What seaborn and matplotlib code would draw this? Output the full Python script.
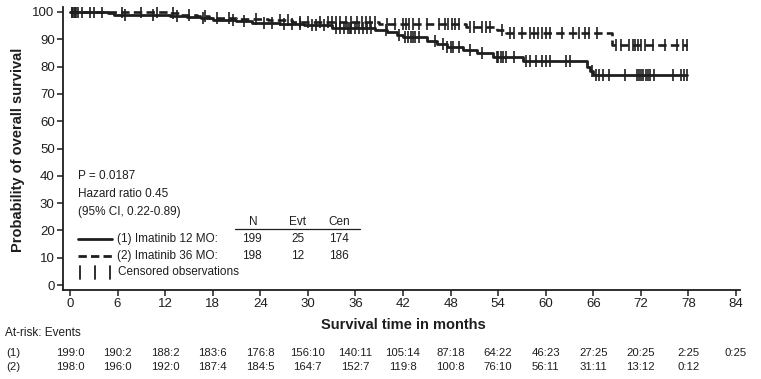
import numpy as np
import pandas as pd
import matplotlib
matplotlib.use("Agg")
import matplotlib.pyplot as plt
from matplotlib.lines import Line2D
import seaborn as sns

# ---------------- data ----------------
months_ticks = [0, 6, 12, 18, 24, 30, 36, 42, 48, 54, 60, 66, 72, 78, 84]
surv_ticks = [0, 10, 20, 30, 40, 50, 60, 70, 80, 90, 100]

# group 1: Imatinib 12 MO (solid) – step times and survival after each step
times1 = [0, 4.8, 5.6, 12.6, 14.7, 16.5, 18.0, 21.0, 23.0, 26.5, 29.5, 33.0, 38.5,
          40.0, 41.2, 42.0, 45.0, 46.3, 47.5, 49.6, 51.3, 53.4, 57.1, 65.2, 65.6, 66.0]
surv1 = [100, 99.5, 99.0, 98.5, 98.0, 97.6, 97.1, 96.6, 96.1, 95.6, 95.1, 94.2, 93.4,
         92.6, 91.7, 90.8, 89.2, 88.1, 87.1, 86.0, 84.9, 83.5, 81.9, 80.0, 78.5, 77.0]
cens1 = [0.3, 0.6, 1.0, 2.5, 4.0, 7.0, 10.5, 13.5, 16.8, 20.5, 22.0, 24.5, 25.5, 27.0,
         28.0, 29.0, 30.5, 31.0, 32.0, 33.5, 34.0, 34.5, 35.0, 35.3, 35.5, 36.0, 36.5,
         37.0, 37.5, 38.0, 39.8, 41.5, 42.3, 42.6, 43.0, 43.3, 43.5, 44.0, 46.0, 47.0,
         47.5, 48.0, 48.3, 49.0, 50.5, 52.0, 53.8, 54.0, 54.3, 54.6, 55.0, 56.0, 57.5,
         58.0, 58.8, 59.5, 60.0, 60.5, 62.5, 63.0, 65.8, 66.3, 66.7, 67.2, 68.0, 70.0,
         71.5, 71.8, 72.0, 72.3, 72.6, 72.9, 73.2, 73.6, 76.0, 77.0, 77.4, 77.8]

# group 2: Imatinib 36 MO (dashed)
times2 = [0, 12.5, 14.0, 16.0, 17.5, 21.0, 25.0, 28.0, 39.0, 50.0, 53.8, 55.0, 68.3]
surv2 = [100, 99.5, 99.0, 98.4, 97.9, 97.4, 96.9, 96.3, 95.7, 94.6, 93.5, 92.2, 88.0]
cens2 = [0.2, 0.5, 0.8, 1.5, 3.0, 6.5, 9.0, 11.0, 13.0, 15.0, 17.0, 18.5, 20.0, 23.5,
         26.5, 27.5, 29.0, 30.0, 31.5, 32.5, 33.0, 33.5, 34.0, 34.8, 35.5, 36.2, 36.8,
         37.3, 37.8, 38.5, 40.0, 41.0, 42.0, 42.4, 42.8, 43.2, 44.0, 45.0, 46.5, 47.3,
         47.7, 48.2, 48.6, 49.0, 50.5, 51.0, 52.0, 52.5, 53.0, 54.5, 55.5, 56.0, 57.0,
         58.0, 58.5, 59.0, 59.5, 60.0, 60.5, 62.0, 63.5, 64.2, 65.0, 65.5, 66.5, 68.8,
         69.5, 70.5, 71.0, 71.3, 71.6, 72.0, 72.5, 73.5, 75.0, 76.5, 77.3, 77.8]

risk1 = ["199:0", "190:2", "188:2", "183:6", "176:8", "156:10", "140:11", "105:14",
         "87:18", "64:22", "46:23", "27:25", "20:25", "2:25", "0:25"]
risk2 = ["198:0", "196:0", "192:0", "187:4", "184:5", "164:7", "152:7", "119:8",
         "100:8", "76:10", "56:11", "31:11", "13:12", "0:12"]

group_labels = ["(1) Imatinib 12 MO:", "(2) Imatinib 36 MO:"]
group_N = [199, 198]
group_evt = [25, 12]
group_cen = [174, 186]

# ---------------- style ----------------
sns.set_style("ticks")
plt.rcParams["font.family"] = ["Liberation Sans", "DejaVu Sans"]
INK = "#1e1e1e"

W, H = 761, 379
fig = plt.figure(figsize=(W / 100, H / 100), dpi=100)


def fx(px):
    return px / W


def fy(py):
    return 1 - py / H


ax = fig.add_axes([fx(63), fy(290), fx(740) - fx(63), fy(7) - fy(290)])


def step_df(t, s, cens):
    t = list(t) + [max(cens)]
    s = list(s) + [s[-1]]
    return pd.DataFrame({"t": t, "s": s})


def cens_df(t, s, cens):
    idx = np.searchsorted(np.asarray(t), np.asarray(cens), side="right") - 1
    return pd.DataFrame({"t": cens, "s": np.asarray(s)[idx]})


d1 = step_df(times1, surv1, cens1)
d2 = step_df(times2, surv2, cens2)
sns.lineplot(data=d2, x="t", y="s", drawstyle="steps-post", color=INK, linewidth=1.9,
             linestyle=(0, (3.2, 1.6)), estimator=None, sort=False, ax=ax)
sns.lineplot(data=d1, x="t", y="s", drawstyle="steps-post", color=INK, linewidth=2.0,
             estimator=None, sort=False, ax=ax)
sns.scatterplot(data=cens_df(times2, surv2, cens2), x="t", y="s", marker="|", s=80,
                linewidth=1.2, color=INK, ax=ax)
sns.scatterplot(data=cens_df(times1, surv1, cens1), x="t", y="s", marker="|", s=80,
                linewidth=1.2, color=INK, ax=ax)

ax.set_xlim(-0.88, 84.5)
ax.set_ylim(-1.8, 101.8)
ax.set_xticks(months_ticks)
ax.set_yticks(surv_ticks)
ax.tick_params(axis="both", direction="out", length=4, width=1.1, colors=INK,
               labelsize=9.5, pad=2)
for side in ["top", "right"]:
    ax.spines[side].set_visible(False)
for side in ["left", "bottom"]:
    ax.spines[side].set_linewidth(1.3)
    ax.spines[side].set_color(INK)
ax.set_xlabel("")
ax.set_ylabel("")

fig.text(fx(403), fy(325), "Survival time in months", ha="center", va="center",
         fontsize=10.5, fontweight="bold", color=INK)
fig.text(fx(18), fy(150), "Probability of overall survival", ha="center",
         va="center", rotation=90, fontsize=10.5, fontweight="bold", color=INK)

# annotations
fs = 8.5
fig.text(fx(78), fy(176), "P = 0.0187", fontsize=fs, va="center", color=INK)
fig.text(fx(78), fy(194), "Hazard ratio 0.45", fontsize=fs, va="center", color=INK)
fig.text(fx(78), fy(212), "(95% CI, 0.22-0.89)", fontsize=fs, va="center", color=INK)
for txt, px in zip(["N", "Evt", "Cen"], [253, 298, 339]):
    fig.text(fx(px), fy(222), txt, fontsize=fs, ha="center", va="center", color=INK)
fig.add_artist(Line2D([fx(235), fx(360)], [fy(229), fy(229)], color=INK, lw=0.9))
row_y = [239, 256]
styles = ["-", (0, (3.0, 1.5))]
for i in range(2):
    fig.add_artist(Line2D([fx(78), fx(112)], [fy(row_y[i]), fy(row_y[i])], color=INK,
                          lw=2.0, linestyle=styles[i]))
    fig.text(fx(117), fy(row_y[i]), group_labels[i], fontsize=fs, va="center", color=INK)
    for val, px in zip([group_N[i], group_evt[i], group_cen[i]], [252, 298, 339]):
        fig.text(fx(px), fy(row_y[i]), str(val), fontsize=fs, ha="center", va="center",
                 color=INK)
for px in [80, 95, 110]:
    fig.add_artist(Line2D([fx(px), fx(px)], [fy(266), fy(279)], color=INK, lw=1.3))
fig.text(fx(118), fy(272), "Censored observations", fontsize=fs, va="center", color=INK)

# at-risk table
fig.text(fx(5), fy(333), "At-risk: Events", fontsize=8.5, va="center", color=INK)
xpix = [70 + m * (666 / 84) for m in months_ticks]
for row, (lab, vals) in enumerate(zip(["(1)", "(2)"], [risk1, risk2])):
    yy = [353, 367][row]
    fig.text(fx(6), fy(yy), lab, fontsize=8.2, va="center", color=INK)
    for v, px in zip(vals, xpix):
        fig.text(fx(px), fy(yy), v, fontsize=8.2, ha="center", va="center", color=INK)

fig.savefig("out.png", dpi=100)
